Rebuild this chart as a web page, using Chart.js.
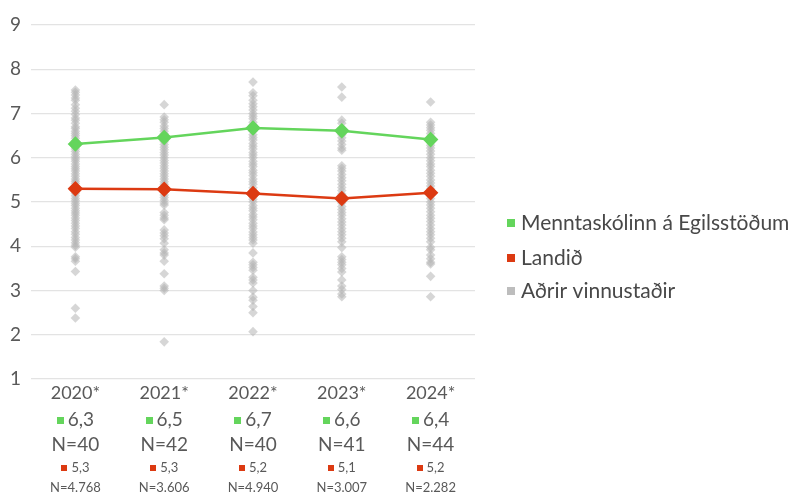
<!DOCTYPE html>
<html>
<head>
<meta charset="utf-8">
<script src="https://cdn.jsdelivr.net/npm/chart.js@4.4.1/dist/chart.umd.min.js"></script>
<style>
  html, body { margin: 0; padding: 0; background: #fff; }
  #wrap { width: 789px; height: 496px; position: relative; }
</style>
</head>
<body>
<div id="wrap"><canvas id="chart"></canvas></div>
<script>
'use strict';

// ---- Datos ----
const years = ['2020*', '2021*', '2022*', '2023*', '2024*'];

const skoliValues = [6.31, 6.46, 6.67, 6.61, 6.41];
const landidValues = [5.3, 5.29, 5.19, 5.08, 5.21];

const skoliLabels = ['6,3', '6,5', '6,7', '6,6', '6,4'];
const skoliN = ['N=40', 'N=42', 'N=40', 'N=41', 'N=44'];
const landidLabels = ['5,3', '5,3', '5,2', '5,1', '5,2'];
const landidN = ['N=4.768', 'N=3.606', 'N=4.940', 'N=3.007', 'N=2.282'];

// Aðrir vinnustaðir, einn listi á ári
const adrir2020 = [7.53, 7.48, 7.42, 7.35, 7.3, 7.2, 7.12, 7.05, 6.98, 6.9, 6.85, 6.78, 6.7, 6.66, 6.6, 6.55, 6.5, 6.44, 6.38, 6.33, 6.25, 6.2, 6.14, 6.08, 6.02, 5.97, 5.92, 5.86, 5.8, 5.75, 5.7, 5.64, 5.58, 5.52, 5.47, 5.42, 5.36, 5.3, 5.25, 5.2, 5.14, 5.08, 5.03, 4.97, 4.92, 4.86, 4.8, 4.75, 4.7, 4.64, 4.58, 4.52, 4.46, 4.4, 4.33, 4.27, 4.2, 4.14, 4.08, 4.02, 3.98, 3.76, 3.72, 3.66, 3.43, 2.6, 2.38];
const adrir2021 = [7.2, 6.92, 6.86, 6.8, 6.72, 6.66, 6.6, 6.54, 6.48, 6.42, 6.36, 6.3, 6.24, 6.18, 6.12, 6.06, 6.0, 5.94, 5.88, 5.82, 5.76, 5.7, 5.64, 5.58, 5.52, 5.46, 5.4, 5.34, 5.28, 5.22, 5.16, 5.1, 5.04, 4.98, 4.93, 4.76, 4.7, 4.64, 4.6, 4.37, 4.3, 4.24, 4.17, 4.07, 3.92, 3.85, 3.8, 3.66, 3.38, 3.1, 3.05, 3.0, 1.84];
const adrir2022 = [7.71, 7.47, 7.4, 7.3, 7.22, 7.15, 7.08, 7.0, 6.94, 6.88, 6.8, 6.74, 6.66, 6.6, 6.52, 6.46, 6.4, 6.32, 6.26, 6.2, 6.12, 6.06, 6.0, 5.92, 5.86, 5.8, 5.72, 5.66, 5.6, 5.52, 5.46, 5.4, 5.32, 5.26, 5.2, 5.12, 5.06, 5.0, 4.92, 4.86, 4.8, 4.72, 4.66, 4.6, 4.52, 4.46, 4.4, 4.32, 4.26, 4.2, 4.14, 4.07, 3.85, 3.64, 3.58, 3.52, 3.46, 3.3, 3.24, 3.17, 3.0, 2.85, 2.78, 2.64, 2.5, 2.07];
const adrir2023 = [7.6, 7.37, 6.85, 6.78, 6.6, 6.52, 6.45, 6.38, 6.3, 6.22, 6.17, 5.82, 5.76, 5.7, 5.62, 5.55, 5.48, 5.4, 5.33, 5.26, 5.18, 5.12, 5.05, 4.98, 4.9, 4.83, 4.76, 4.7, 4.62, 4.55, 4.48, 4.4, 4.33, 4.26, 4.18, 4.1, 3.97, 3.76, 3.7, 3.64, 3.58, 3.5, 3.42, 3.24, 3.1, 3.02, 2.92, 2.86];
const adrir2024 = [7.26, 6.8, 6.74, 6.68, 6.62, 6.55, 6.48, 6.42, 6.35, 6.28, 6.22, 6.15, 6.08, 6.0, 5.93, 5.86, 5.8, 5.72, 5.65, 5.58, 5.5, 5.43, 5.36, 5.3, 5.22, 5.15, 5.08, 5.0, 4.93, 4.86, 4.78, 4.7, 4.63, 4.56, 4.48, 4.4, 4.33, 4.26, 4.18, 4.1, 3.98, 3.92, 3.8, 3.72, 3.64, 3.6, 3.32, 2.86];

const seriesNames = ['Menntaskólinn á Egilsstöðum', 'Landið', 'Aðrir vinnustaðir'];

// ---- Estilos ----
const GREEN = '#64d55c';
const RED = '#dc3a12';
const GREY = '#bdbdbd';
const TEXT = '#595959';
const FONT = 'Lato, "Open Sans", sans-serif';

const adrirPorAno = [adrir2020, adrir2021, adrir2022, adrir2023, adrir2024];
const adrirPuntos = [];
adrirPorAno.forEach(function (lista, i) {
  lista.forEach(function (v) {
    adrirPuntos.push({ x: years[i], y: v });
  });
});

function squareText(ctx, x, y, size, color, text, font) {
  ctx.font = font;
  const w = ctx.measureText(text).width;
  const gap = 4;
  const total = size + gap + w;
  const left = x - total / 2;
  ctx.fillStyle = color;
  ctx.fillRect(Math.round(left), Math.round(y - size / 2), size, size);
  ctx.fillStyle = TEXT;
  ctx.textAlign = 'left';
  ctx.fillText(text, left + size + gap, y);
}

const etiquetasPlugin = {
  id: 'etiquetas',
  afterDraw: function (chart) {
    const ctx = chart.ctx;
    const xs = chart.scales.x;
    ctx.save();
    ctx.textBaseline = 'middle';
    years.forEach(function (yr, i) {
      const cx = xs.getPixelForValue(i);
      ctx.fillStyle = TEXT;
      ctx.textAlign = 'center';
      ctx.font = '18px ' + FONT;
      ctx.fillText(yr, cx, 393);
      squareText(ctx, cx, 420, 7, GREEN, skoliLabels[i], '19px ' + FONT);
      ctx.fillStyle = TEXT;
      ctx.textAlign = 'center';
      ctx.font = '19px ' + FONT;
      ctx.fillText(skoliN[i], cx, 445);
      squareText(ctx, cx, 468, 6, RED, landidLabels[i], '13px ' + FONT);
      ctx.fillStyle = TEXT;
      ctx.textAlign = 'center';
      ctx.font = '13px ' + FONT;
      ctx.fillText(landidN[i], cx, 488);
    });

    // Leyenda
    const colores = [GREEN, RED, GREY];
    const ys = [223, 258, 291];
    ctx.font = '21px ' + FONT;
    ctx.textAlign = 'left';
    seriesNames.forEach(function (name, i) {
      ctx.fillStyle = colores[i];
      ctx.fillRect(507, ys[i] - 4, 8, 8);
      ctx.fillStyle = '#484848';
      ctx.fillText(name, 521, ys[i]);
    });
    ctx.restore();
  }
};

new Chart(document.getElementById('chart').getContext('2d'), {
  type: 'line',
  data: {
    labels: years,
    datasets: [
      {
        label: seriesNames[0],
        data: skoliValues,
        borderColor: GREEN,
        backgroundColor: GREEN,
        borderWidth: 2.5,
        pointStyle: 'rectRot',
        pointRadius: 6,
        tension: 0,
        order: 1
      },
      {
        label: seriesNames[1],
        data: landidValues,
        borderColor: RED,
        backgroundColor: RED,
        borderWidth: 2.5,
        pointStyle: 'rectRot',
        pointRadius: 6,
        tension: 0,
        order: 2
      },
      {
        label: seriesNames[2],
        data: adrirPuntos,
        showLine: false,
        borderWidth: 0,
        backgroundColor: 'rgba(180,180,180,0.55)',
        pointStyle: 'rectRot',
        pointRadius: 4.8,
        order: 3
      }
    ]
  },
  options: {
    responsive: true,
    maintainAspectRatio: false,
    animation: false,
    layout: { padding: { left: 0, top: 25, right: 314, bottom: 117 } },
    scales: {
      x: {
        display: false,
        offset: true
      },
      y: {
        min: 1,
        max: 9,
        border: { display: false },
        grid: { color: '#e3e3e3', drawTicks: false, lineWidth: 1.2 },
        ticks: {
          stepSize: 1,
          padding: 10,
          color: TEXT,
          font: { family: FONT, size: 19 }
        },
        afterFit: function (s) { s.width = 31; }
      }
    },
    plugins: {
      legend: { display: false },
      tooltip: { enabled: false }
    }
  },
  plugins: [etiquetasPlugin]
});
</script>
</body>
</html>
